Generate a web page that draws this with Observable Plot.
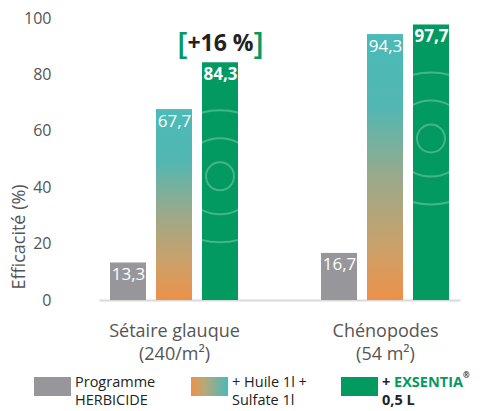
<!DOCTYPE html>
<html><head><meta charset="utf-8">
<script src="https://cdn.jsdelivr.net/npm/d3@7"></script>
<script src="https://cdn.jsdelivr.net/npm/@observablehq/plot@0.6"></script>
<style>
body{margin:0;background:#fff;font-family:"Open Sans",sans-serif;}
#legend{display:flex;padding-left:34px;margin-top:1px;}
.item{display:flex;align-items:flex-start;font-size:14.5px;line-height:18px;color:#222;}
.sw{width:37px;height:19px;margin-top:4px;margin-right:4px;flex:none;}
sup{font-size:8px;line-height:0;vertical-align:9px;}
</style></head><body><div id="chart"></div><div id="legend"></div>
<script>
const groups = ["Sétaire glauque\n(240/m²)", "Chénopodes\n(54 m²)"];
const series = ["Programme HERBICIDE", "+ Huile 1l + Sulfate 1l", "+ EXSENTIA® 0,5 L"];
const programmeValues = [13.3, 16.7];
const huileValues = [67.7, 94.3];
const exsentiaValues = [84.3, 97.7];
const gainLabels = ["+16 %", null];
const yTicks = [0, 20, 40, 60, 80, 100];
const legendLabels = ["Programme<br>HERBICIDE", "+ Huile 1l +<br>Sulfate 1l",
  "<b>+ <span style='color:#039A62'>EXSENTIA</span><sup>®</sup><br>0,5 L</b>"];

// styles
const GREEN = "#039A62", GREY = "#97979B", TEXT = "#555";
const seriesColors = [GREY, "url(#huileGrad)", GREEN];
const legendSwatches = [GREY, "linear-gradient(to right,#EC914A,#B9A878 35%,#86AE98 65%,#4BBAB8)", GREEN];
const legendWidths = [157, 150, 140];
const rippleRadii = [14, 38, 66];

const seriesValues = [programmeValues, huileValues, exsentiaValues];
const data = groups.flatMap((g, i) => series.map((s, j) => ({
  group: g, series: s, value: seriesValues[j][i], gain: j === 2 ? gainLabels[i] : null
})));
const fmt = v => d3.format(".1f")(v).replace(".", ",");
const greenRows = data.filter(d => d.series === series[2]);
const otherRows = data.filter(d => d.series !== series[2]);
const gainRows = data.filter(d => d.gain);

let clipCount = 0;
const chart = Plot.plot({
  width: 483, height: 372,
  marginLeft: 68, marginRight: 0, marginTop: 18, marginBottom: 72,
  style: {fontFamily: "'Open Sans', sans-serif", background: "white", overflow: "visible"},
  fx: {domain: groups, paddingInner: 0.3, paddingOuter: 0.131, align: 0.568, label: null},
  x: {domain: series, paddingInner: 0.2128, paddingOuter: 0.181, axis: null},
  y: {domain: [0, 100], label: null},
  color: {domain: series, range: seriesColors},
  marks: [
    Plot.frame({anchor: "bottom", facet: "super", stroke: "#dadada", strokeWidth: 2}),
    Plot.axisY(yTicks, {tickSize: 0, tickPadding: 49, fontSize: 16, color: TEXT, label: null}),
    Plot.axisFx({anchor: "bottom", tickSize: 0, tickPadding: 19, fontSize: 18, lineHeight: 1.33, color: TEXT, label: null}),
    Plot.barY(data, {fx: "group", x: "series", y: "value", fill: "series"}),
    Plot.barY(greenRows, {fx: "group", x: "series", y: "value", fill: "none",
      render(index, scales, values, dimensions, context, next) {
        const g = next(index, scales, values, dimensions, context);
        const parent = d3.select(g);
        parent.selectAll("rect").each(function() {
          const r = d3.select(this);
          const x = +r.attr("x"), y = +r.attr("y"), w = +r.attr("width"), h = +r.attr("height");
          const id = "rippleClip" + (++clipCount);
          parent.append("clipPath").attr("id", id).append("rect")
            .attr("x", x).attr("y", y).attr("width", w).attr("height", h);
          const cg = parent.append("g").attr("clip-path", `url(#${id})`)
            .attr("fill", "none").attr("stroke", "rgba(255,255,255,0.26)").attr("stroke-width", 2);
          for (const rad of rippleRadii) {
            cg.append("circle").attr("cx", x + w / 2).attr("cy", y + 114).attr("r", rad);
          }
        });
        return g;
      }}),
    Plot.text(otherRows, {fx: "group", x: "series", y: "value", text: d => fmt(d.value),
      fill: "white", lineAnchor: "top", dy: 5, fontSize: 17}),
    Plot.text(greenRows, {fx: "group", x: "series", y: "value", text: d => fmt(d.value),
      fill: "white", lineAnchor: "top", dy: 5, fontSize: 17, fontWeight: "bold"}),
    Plot.text(gainRows, {fx: "group", x: "series", y: "value", text: "gain",
      fill: "#222", lineAnchor: "bottom", dy: -12, fontSize: 23, fontWeight: "bold"}),
    Plot.text(gainRows, {fx: "group", x: "series", y: "value", text: () => "[",
      fill: GREEN, lineAnchor: "bottom", textAnchor: "end", dx: -33, dy: -9, fontSize: 31, fontWeight: 600}),
    Plot.text(gainRows, {fx: "group", x: "series", y: "value", text: () => "]",
      fill: GREEN, lineAnchor: "bottom", textAnchor: "start", dx: 33, dy: -9, fontSize: 31, fontWeight: 600}),
    Plot.text(["Efficacité (%)"], {facet: "super", frameAnchor: "bottom-left", rotate: -90,
      textAnchor: "start", lineAnchor: "middle", dx: -81, dy: -11, fontSize: 18, fill: TEXT})
  ]
});

const defs = d3.select(chart).insert("defs", ":first-child");
const grad = defs.append("linearGradient").attr("id", "huileGrad")
  .attr("x1", 0).attr("y1", 0).attr("x2", 0).attr("y2", 1);
[["0%", "#4BBAB8"], ["28%", "#53B7B1"], ["55%", "#9CA98A"], ["80%", "#CBA16A"], ["100%", "#EC914A"]]
  .forEach(([o, c]) => grad.append("stop").attr("offset", o).attr("stop-color", c));

document.getElementById("chart").appendChild(chart);

const legend = d3.select("#legend");
series.forEach((s, i) => {
  const item = legend.append("div").attr("class", "item").style("width", legendWidths[i] + "px");
  item.append("div").attr("class", "sw").style("background", legendSwatches[i]);
  item.append("div").html(legendLabels[i]);
});
</script>
</body></html>
